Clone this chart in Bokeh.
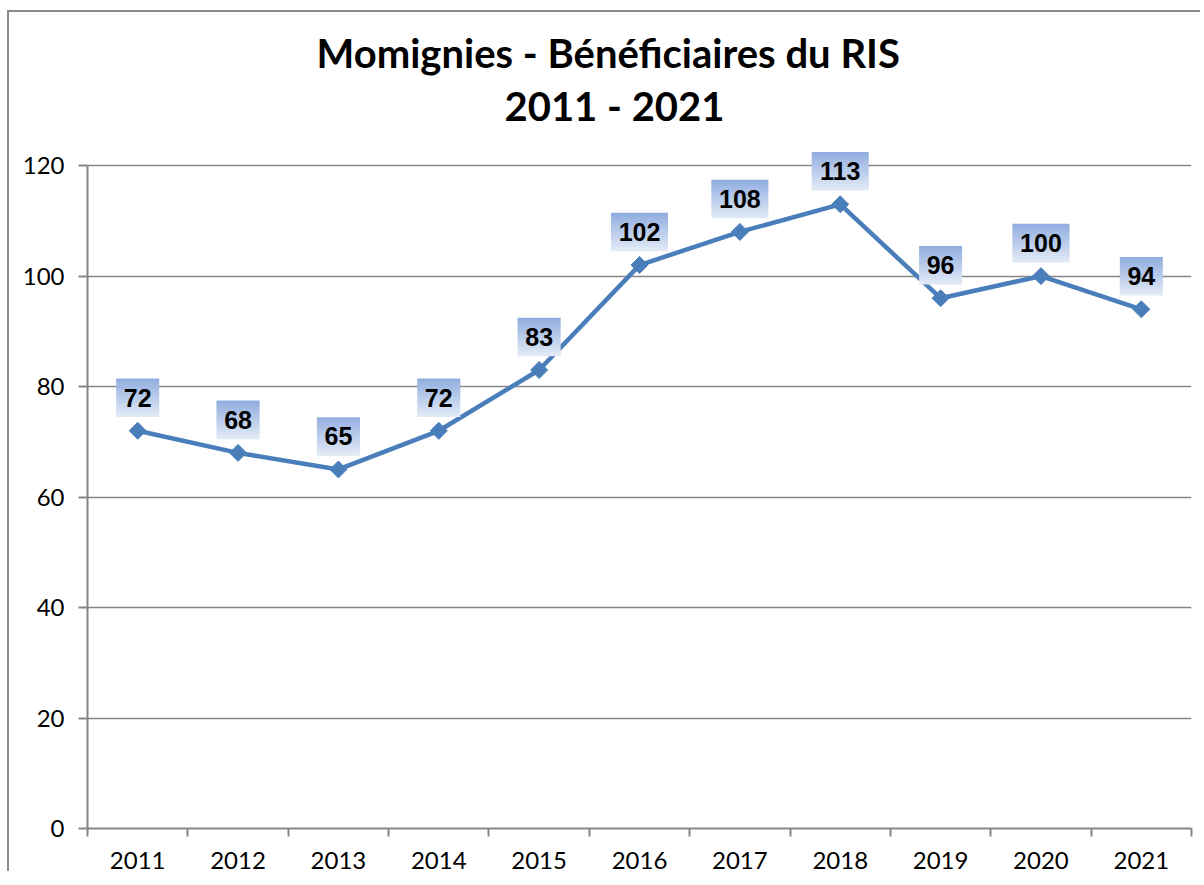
import math
from bokeh.plotting import figure
from bokeh.models import FixedTicker, ColumnDataSource, Range1d, Title
from bokeh.core.properties import value
from bokeh.embed import file_html
from bokeh.resources import INLINE

# ---- data ----
years = [2011, 2012, 2013, 2014, 2015, 2016, 2017, 2018, 2019, 2020, 2021]
beneficiaires = [72, 68, 65, 72, 83, 102, 108, 113, 96, 100, 94]
y_ticks = [0, 20, 40, 60, 80, 100, 120]
title_line1 = "Momignies - Bénéficiaires du RIS"
title_line2 = "2011 - 2021"

# ---- style ----
LINE_COLOR = "#4A7EBB"
GRID_COLOR = "#868686"
Y_AXIS_MAX = 120
Y_VIEW_MAX = 126           # headroom so the top label box is not clipped
FRAME_W, FRAME_H = 1104, 696

p = figure(
    title=None,
    width=1200, height=884,
    frame_width=FRAME_W, frame_height=FRAME_H,
    x_range=Range1d(years[0] - 0.5, years[-1] + 0.5),
    y_range=Range1d(0, Y_VIEW_MAX),
    output_backend="svg", toolbar_location=None,
    min_border_left=87, min_border_right=9, min_border_top=132, min_border_bottom=20,
)
p.add_layout(Title(text=title_line2, align="left", offset=417,
                   text_font="Lato", text_font_size="40px", text_font_style="bold",
                   text_color="black", standoff=6), "above")
p.add_layout(Title(text=title_line1, align="left", offset=229,
                   text_font="Lato", text_font_size="40px", text_font_style="bold",
                   text_color="black", standoff=0), "above")

p.border_fill_color = None
p.background_fill_color = "white"
p.outline_line_color = None
p.styles = {
    "background": "linear-gradient(#8c8c8c,#8c8c8c) 7px 10px / 2px 100% no-repeat, "
                  "linear-gradient(#8c8c8c,#8c8c8c) 7px 10px / 100% 2px no-repeat, white"
}

# x axis: labels at year centres, tick marks at boundaries (minor ticks)
p.xaxis.ticker = FixedTicker(ticks=years, minor_ticks=[y - 0.5 for y in years] + [years[-1] + 0.5])
p.xaxis.major_tick_out = 8
p.xaxis.major_tick_in = 0
p.xaxis.major_tick_line_color = None
p.xaxis.minor_tick_out = 8
p.xaxis.minor_tick_in = 0
p.xaxis.minor_tick_line_color = GRID_COLOR
p.xaxis.minor_tick_line_width = 2
p.xaxis.axis_line_color = GRID_COLOR
p.xaxis.axis_line_width = 2
p.xaxis.major_label_standoff = 15
p.xaxis.major_label_text_font = "Lato"
p.xaxis.major_label_text_font_size = "24px"
p.xaxis.major_label_text_color = "black"

p.yaxis.ticker = FixedTicker(ticks=y_ticks)
p.yaxis.bounds = (0, Y_AXIS_MAX)
p.yaxis.major_tick_out = 9
p.yaxis.major_tick_in = 0
p.yaxis.minor_tick_line_color = None
p.yaxis.major_tick_line_color = GRID_COLOR
p.yaxis.major_tick_line_width = 2
p.yaxis.axis_line_color = GRID_COLOR
p.yaxis.axis_line_width = 2
p.yaxis.major_label_standoff = 14
p.yaxis.major_label_text_font = "Lato"
p.yaxis.major_label_text_font_size = "24px"
p.yaxis.major_label_text_color = "black"

p.xgrid.grid_line_color = None
p.ygrid.ticker = FixedTicker(ticks=y_ticks)
p.ygrid.grid_line_color = GRID_COLOR
p.ygrid.grid_line_width = 1.5

src = ColumnDataSource(dict(x=years, y=beneficiaires, t=[str(v) for v in beneficiaires]))

p.line("x", "y", source=src, line_color=LINE_COLOR, line_width=4.5)
p.scatter("x", "y", source=src, marker="square", angle=math.pi / 4, size=12,
          fill_color=LINE_COLOR, line_color=LINE_COLOR)

# data label boxes with vertical gradient (approximated by strips)
ppu = FRAME_H / Y_VIEW_MAX
OFFSET_PX = 33
BOX_H = 38
N = 19
strip = BOX_H / N
top_c = (146, 174, 224)
bot_c = (224, 233, 245)
widths = [43 if len(str(v)) < 3 else 57 for v in beneficiaires]
for k in range(N):
    f = k / (N - 1)
    col = "#%02x%02x%02x" % tuple(int(round(a + (b - a) * f)) for a, b in zip(top_c, bot_c))
    dy_px = OFFSET_PX + BOX_H / 2 - strip * (k + 0.5)
    ys = [v + dy_px / ppu for v in beneficiaires]
    p.rect(x=years, y=ys, width=widths, height=strip + 0.6,
           width_units="screen", height_units="screen",
           fill_color=col, line_color=None)

p.text("x", "y", text="t", source=src, x_offset=0, y_offset=-OFFSET_PX,
       text_align="center", text_baseline="middle",
       text_font=value("Liberation Sans"), text_font_style="bold",
       text_font_size="25px", text_color="black")

open("out.html", "w").write(file_html(p, INLINE))
